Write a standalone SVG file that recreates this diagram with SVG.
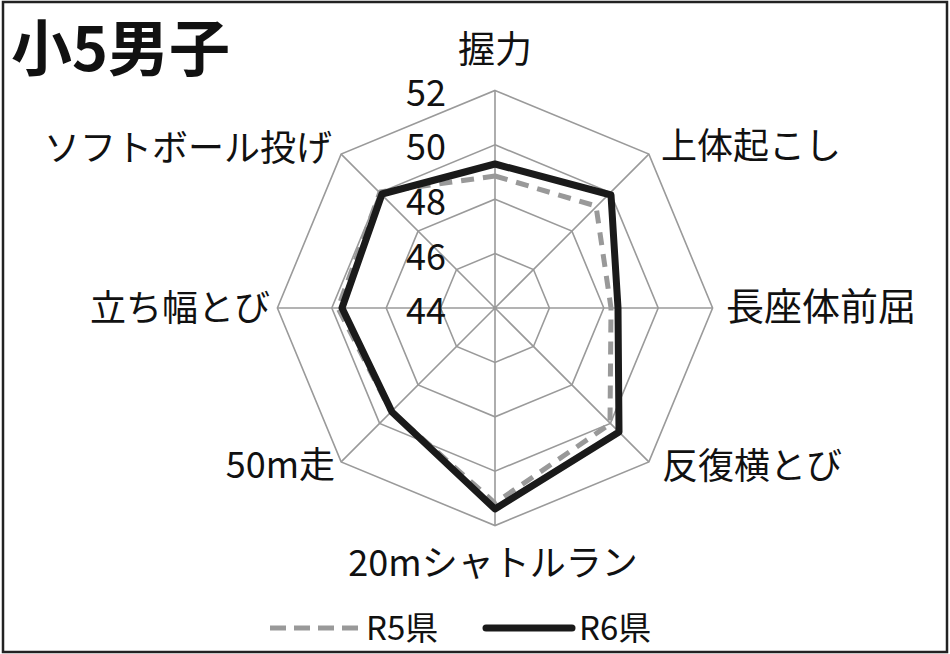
<svg xmlns="http://www.w3.org/2000/svg" width="950" height="654" viewBox="0 0 950 654">
<style>
text{font-family:"Noto Sans CJK JP","Noto Sans",sans-serif;fill:#111}
.ax{font-size:36px}
.tick{font-size:36px;text-anchor:end}
.grid{fill:none;stroke:#9a9a9a;stroke-width:1.6}
.r5{fill:none;stroke:#999;stroke-width:5;stroke-dasharray:13 9;stroke-linejoin:round}
.r6{fill:none;stroke:#1a1a1a;stroke-width:7;stroke-linejoin:round}
</style>
<rect x="3" y="2" width="944" height="650" fill="#fff" stroke="#222" stroke-width="2.5"/>
<text x="11" y="71" style="font-size:61px;font-weight:bold">小5男子</text>
<g id="grid">
<polygon class="grid" points="495,253.6 533.47,269.53 549.4,308 533.47,346.47 495,362.4 456.53,346.47 440.6,308 456.53,269.53"/>
<polygon class="grid" points="495,199.2 571.93,231.07 603.8,308 571.93,384.93 495,416.8 418.07,384.93 386.2,308 418.07,231.07"/>
<polygon class="grid" points="495,144.8 610.4,192.6 658.2,308 610.4,423.4 495,471.2 379.6,423.4 331.8,308 379.6,192.6"/>
<polygon class="grid" points="495,90.4 648.87,154.13 712.6,308 648.87,461.87 495,525.6 341.13,461.87 277.4,308 341.13,154.13"/>
<path class="grid" d="M495,308V90.4M495,308L648.87,154.13M495,308H712.6M495,308L648.87,461.87M495,308V525.6M495,308L341.13,461.87M495,308H277.4M495,308L341.13,154.13"/>
</g>
<g id="ticks">
<text class="tick" x="446" y="106">52</text>
<text class="tick" x="446" y="160">50</text>
<text class="tick" x="446" y="215">48</text>
<text class="tick" x="446" y="270">46</text>
<text class="tick" x="446" y="324">44</text>
</g>
<g id="series">
<polygon id="r5" class="r5" points="495,176 596,206 611,308 610,424 495,503 390,410 338,308 380,192"/>
<polygon id="r6" class="r6" points="495,164 611,195 618,308 619,432 495,509 392,412 342,308 382,194"/>
</g>
<g id="labels">
<text class="ax" x="495" y="63" text-anchor="middle" style="font-size:37px">握力</text>
<text class="ax" x="661" y="159">上体起こし</text>
<text class="ax" x="726" y="320" style="font-size:38px">長座体前屈</text>
<text class="ax" x="662" y="479">反復横とび</text>
<text class="ax" x="493" y="576" text-anchor="middle">20mシャトルラン</text>
<text class="ax" x="335" y="478" text-anchor="end">50m走</text>
<text class="ax" x="270" y="321" text-anchor="end">立ち幅とび</text>
<text class="ax" x="332" y="161" text-anchor="end">ソフトボール投げ</text>
</g>
<g id="legend">
<line x1="270" y1="628" x2="358" y2="628" stroke="#999" stroke-width="5" stroke-dasharray="16 8"/>
<text x="366" y="640" style="font-size:33px">R5県</text>
<line x1="486" y1="628" x2="572" y2="628" stroke="#1a1a1a" stroke-width="7" stroke-linecap="round"/>
<text x="579" y="640" style="font-size:33px">R6県</text>
</g>
</svg>
